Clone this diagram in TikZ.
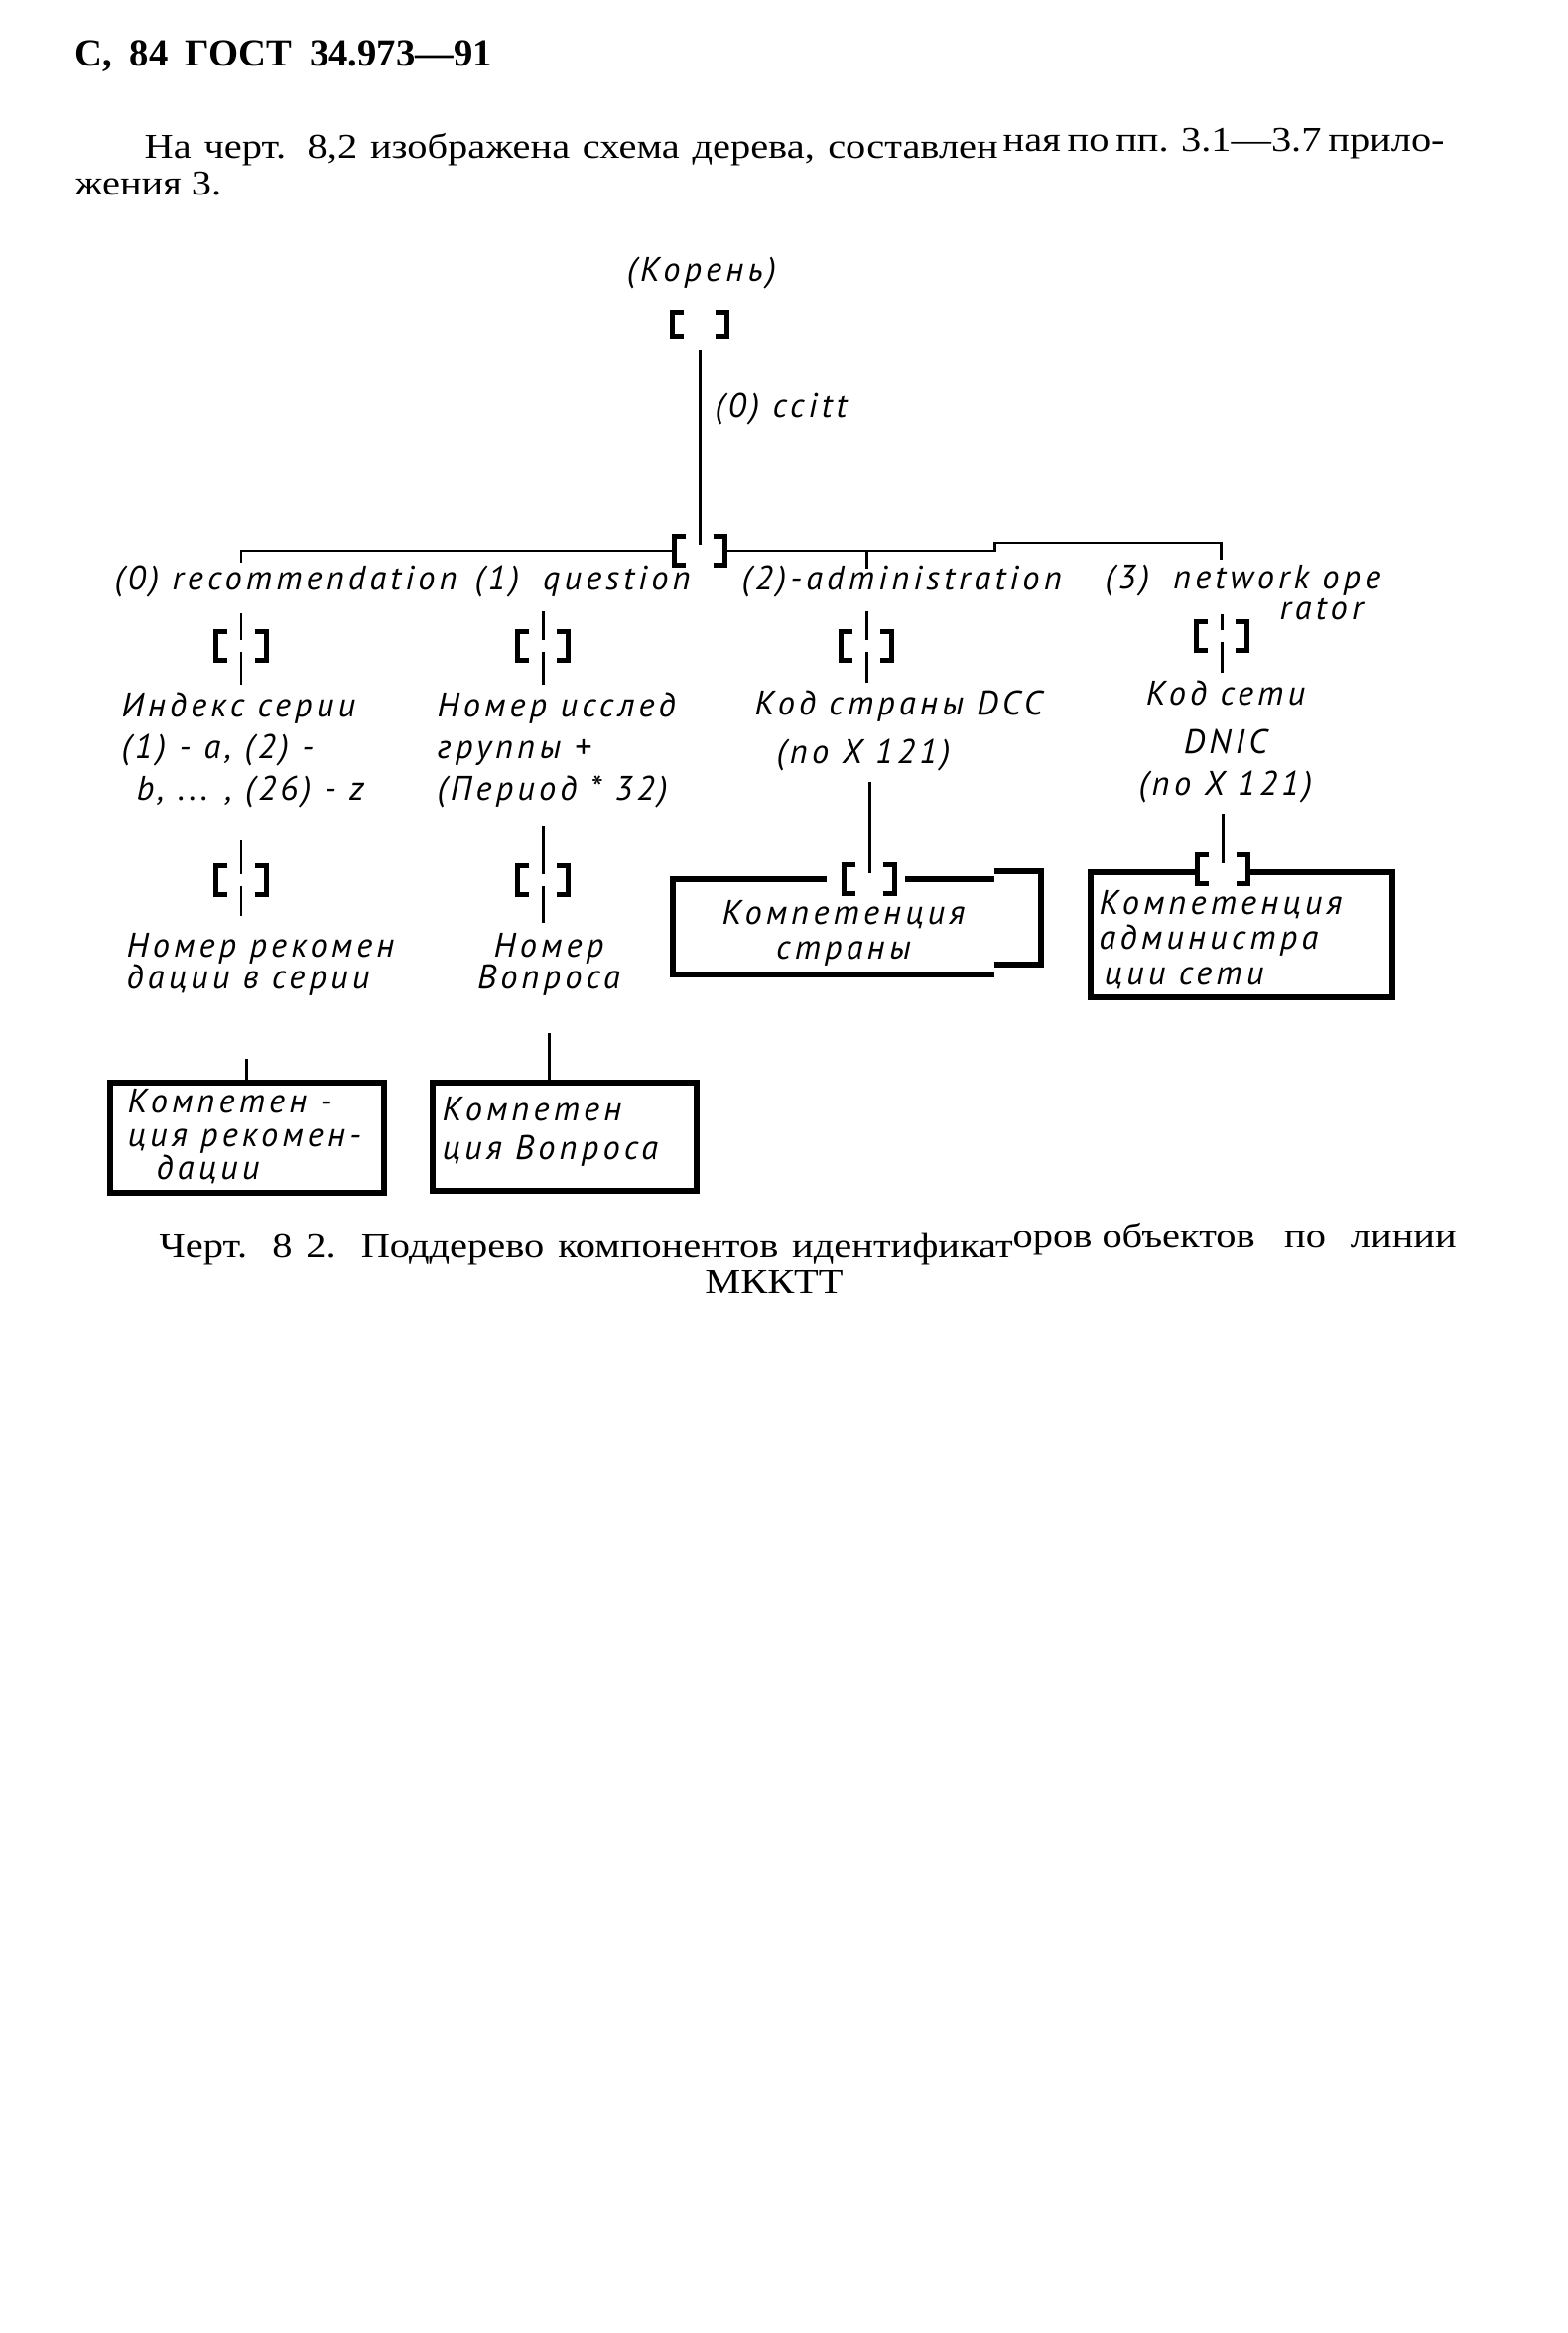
\documentclass[tikz,border=0pt]{standalone}
\usepackage{fontspec}
\setmainfont{Liberation Serif}
\newfontfamily\bodyfont[FakeStretch=1.15]{Liberation Serif}
\newfontfamily\gostfont[LetterSpace=12]{PT Sans}

\begin{document}
\begin{tikzpicture}[
    x=0.1mm, y=-0.1mm,
    %% Rukopisné písmo schémy
    gost/.style={font=\gostfont\itshape\fontsize{9.8pt}{12pt}\selectfont, inner sep=0pt},
    %% Text stránky
    serif/.style={font=\bodyfont\fontsize{10pt}{12pt}\selectfont, inner sep=0pt},
    hdr/.style={font=\rmfamily\bfseries\fontsize{11pt}{12pt}\selectfont, inner sep=0pt},
    %% Spojnica
    conn/.style={line width=0.85pt},
    %% Uzol [ ]
    knot/.style={minimum width=5mm, minimum height=2.8mm, inner sep=0pt, fill=white},
    brk/.style={line width=1.4pt},
    %% Rámik listu
    frame/.style={draw, line width=1.7pt, inner sep=0pt, anchor=north west},
    frameline/.style={line width=1.7pt}
]
\useasboundingbox (0,0) rectangle (1579,2351);
\fill[white] (0,0) rectangle (1579,2351);

%% ══════════════════════════════════════════════════════════════════
%% Záhlavie a odsek
%% ══════════════════════════════════════════════════════════════════
\node[hdr, anchor=base west] (head) at (75,67)
    {\hbox to 42mm{С,\hfil 84\hfil ГОСТ\hfil 34.973—91}};
\node[serif, anchor=base west] (p1a) at (145,160)
    {\hbox to 86mm{На черт. 8,2 изображена схема дерева, составлен}};
\node[serif, anchor=base west] (p1b) at (1010,153)
    {\hbox to 44.5mm{ная по пп. 3.1—3.7 прило-}};
\node[serif, anchor=base west] (p2) at (75,197) {жения 3.};

%% ══════════════════════════════════════════════════════════════════
%% Listy (rámiky)
%% ══════════════════════════════════════════════════════════════════
\node[frame, minimum width=27.6mm, minimum height=11.1mm] (boxA) at (108,1088) {};
\node[frame, minimum width=26.6mm, minimum height=10.9mm] (boxB) at (433,1088) {};
\node[frame, minimum width=30.4mm, minimum height=12.6mm] (boxD) at (1096,876) {};

%% Rámik "Компетенция страны" (posunutý pruh skenu)
\draw[frameline] (833,886) -| (678,982) -- (1002,982);
\draw[frameline] (912,886) -- (1002,886);
\draw[frameline] (1002,878) -| (1049,972) -- (1002,972);

%% ══════════════════════════════════════════════════════════════════
%% Uzly [ ]
%% ══════════════════════════════════════════════════════════════════
\node[knot, minimum width=5.4mm, minimum height=2.3mm] (k0) at (705,327) {};
\foreach \k/\x/\y in {k1/705/555, b1/243/651, b2/547/651, b3/873/651,
                      b4/1231/641, c1/243/887, c2/547/887, c3/876/886,
                      c4/1232/876} {
    \node[knot] (\k) at (\x,\y) {};
}
\foreach \k in {k0,k1,b1,b2,b3,b4,c1,c2,c3,c4} {
    \draw[brk] ([xshift=3.4pt]\k.north west) -- (\k.north west)
        -- (\k.south west) -- ([xshift=3.4pt]\k.south west);
    \draw[brk] ([xshift=-3.4pt]\k.north east) -- (\k.north east)
        -- (\k.south east) -- ([xshift=-3.4pt]\k.south east);
}

%% ══════════════════════════════════════════════════════════════════
%% Texty schémy
%% ══════════════════════════════════════════════════════════════════
\node[gost, anchor=base] (rootlbl) at (707,284) {(Корень)};
\node[gost, anchor=base west] (cc) at (720,420) {(0) ccitt};

\node[gost, anchor=base west] (l0) at (115,594) {(0) recommendation};
\node[gost, anchor=base west] (l1) at (478,594) {(1)\hspace{2.4mm}question};
\node[gost, anchor=base west] (l2) at (747,594) {(2)-administration};
\node[gost, anchor=north east, align=right] (l3) at (1392,568)
    {(3)\hspace{2.4mm}network ope\\[-3pt]rator\hspace*{1.8mm}};

\node[gost, anchor=north west, align=left] (t1a) at (122,697)
    {Индекс серии\\(1) - a, (2) -\\\hspace*{1.5mm}b, ... , (26) - z};
\node[gost, anchor=north west, align=left] (t2a) at (440,697)
    {Номер исслед\\группы +\\(Период * 32)};
\node[gost, anchor=north west, align=left] (t3a) at (760,695)
    {Код страны DCC\\[2pt]\hspace*{2.2mm}(по X 121)};
\node[gost, anchor=north, align=center] (t4a) at (1235,685)
    {Код сети\\[2pt]DNIC\\(по X 121)};

\node[gost, anchor=north west, align=left] (t1b) at (127,940)
    {Номер рекомен\\[-3pt]дации в серии};
\node[gost, anchor=north, align=center] (t2b) at (553,940)
    {Номер\\[-3pt]Вопроса};

\node[gost, anchor=north west, align=left] (tA) at (128,1097)
    {Компетен -\\[-2.5pt]ция рекомен-\\[-2.5pt]\hspace*{2.9mm}дации};
\node[gost, anchor=north west, align=left] (tB) at (445,1105)
    {Компетен\\[-1pt]ция Вопроса};
\node[gost, anchor=north, align=center] (tC) at (850,907)
    {Компетенция\\[-2pt]страны};
\node[gost, anchor=north west, align=left] (tD) at (1107,897)
    {Компетенция\\[-2pt]администра\\[-2pt]\hspace*{0.5mm}ции сети};

%% ══════════════════════════════════════════════════════════════════
%% Spojnice
%% ══════════════════════════════════════════════════════════════════
\coordinate (hA) at (243,567);
\coordinate (hC) at (873,573);
\coordinate (hD) at (1230,564);

%% Koreň -> rozdeľovač
\draw[conn, shorten <=4pt, shorten >=-2.5pt] (k0.south) -- (k1.north);

%% Zbernica
\draw[conn] (k1.west) -| (hA);
\draw[conn] (k1.east) -- ++(272,0) -- ++(0,-8) -| (hD);
\draw[conn] (hC |- k1.east) -- (hC);

%% Popisy -> uzly 1. úrovne
\draw[conn, shorten <=4.5pt, shorten >=-2.5pt] (l0.south -| b1.north) -- (b1.north);
\draw[conn, shorten <=4pt, shorten >=-2.5pt] (l1.south -| b2.north) -- (b2.north);
\draw[conn, shorten <=4pt, shorten >=-2.5pt] (l2.south -| b3.north) -- (b3.north);
\draw[conn, shorten >=-2.5pt] ([yshift=-14.5pt]l3.north -| b4.north) -- (b4.north);

%% Uzly 1. úrovne -> texty
\foreach \k/\t in {b1/t1a, b2/t2a, b3/t3a, b4/t4a} {
    \draw[conn, shorten <=-2.5pt, shorten >=2pt] (\k.south) -- (\k.south |- \t.north);
}

%% Texty -> uzly 2. úrovne
\draw[conn, shorten <=9pt, shorten >=-2.5pt] (t1a.south -| c1.north) -- (c1.north);
\draw[conn, shorten <=5pt, shorten >=-2.5pt] (t2a.south -| c2.north) -- (c2.north);
\draw[conn, shorten <=3pt, shorten >=-2.5pt] (t3a.south -| c3.north) -- (c3.north);
\draw[conn, shorten <=3pt, shorten >=-2.5pt] (t4a.south -| c4.north) -- (c4.north);

%% Uzly 2. úrovne -> texty
\draw[conn, shorten <=-2.5pt, shorten >=4.8pt] (c1.south) -- (c1.south |- t1b.north);
\draw[conn, shorten <=-2.5pt, shorten >=2.8pt] (c2.south) -- (c2.south |- t2b.north);

%% Texty -> listy
\draw[conn, shorten <=18pt] (t1b.south -| boxA.north) -- (boxA.north);
\draw[conn, shorten <=10.5pt] (t2b.south) -- (t2b.south |- boxB.north);

%% ══════════════════════════════════════════════════════════════════
%% Popis obrázka
%% ══════════════════════════════════════════════════════════════════
\node[serif, anchor=base west] (cap1) at (160,1267)
    {\hbox to 86mm{Черт. 8 2. Поддерево компонентов идентификат}};
\node[serif, anchor=base west] (cap2) at (1020,1257)
    {\hbox to 44.7mm{оров объектов\hfill по\hspace{2.5mm}линии}};
\node[serif, anchor=base] (cap3) at (780,1303) {МККТТ};

\end{tikzpicture}
\end{document}
